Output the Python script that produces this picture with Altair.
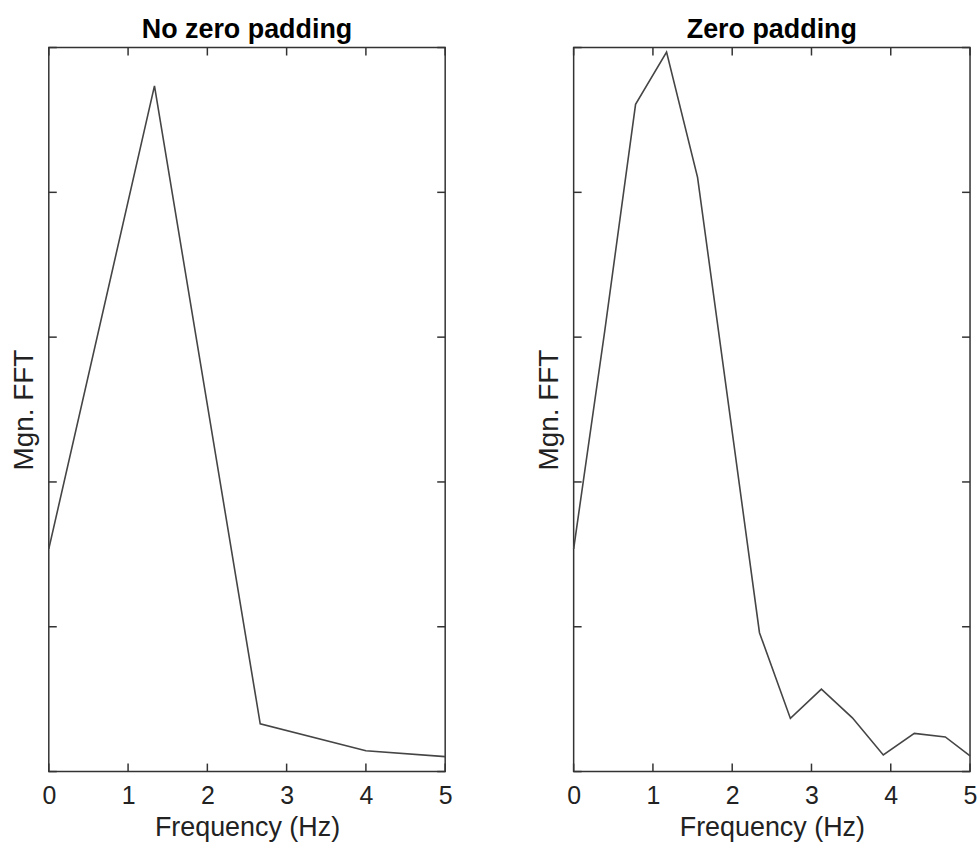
import altair as alt
import pandas as pd

# ---- data ----
left_freq = [0.0, 1.333, 2.667, 4.0, 5.0]
left_mag = [1.538, 4.735, 0.330, 0.144, 0.103]

right_freq = [0.0, 0.391, 0.781, 1.172, 1.563, 1.953, 2.344, 2.734,
              3.125, 3.516, 3.906, 4.297, 4.688, 5.0]
right_mag = [1.538, 3.038, 4.608, 4.968, 4.104, 2.536, 0.959, 0.367,
             0.569, 0.371, 0.115, 0.264, 0.239, 0.108]

x_ticks = [0, 1, 2, 3, 4, 5]
y_ticks = [0, 1, 2, 3, 4, 5]

titles = ["No zero padding", "Zero padding"]
x_title = "Frequency (Hz)"
y_title = "Mgn. FFT"

W, H = 398, 727
TICK = 8
FONT = "Liberation Sans"
INK = "#333333"

X_AXIS = alt.Axis(
    values=x_ticks, format="d", ticks=False, tickSize=0, domain=False,
    grid=False, labelFontSize=25, labelPadding=12, labelColor="#222222",
    labelFlush=False, labelOverlap=False,
    labelFont=FONT, title=x_title, titleFontSize=27,
    titleFontWeight="normal", titleFont=FONT, titleColor="#222222",
    titlePadding=6)
Y_AXIS = alt.Axis(
    values=y_ticks, labels=False, ticks=False, tickSize=0, domain=False,
    grid=False, title=y_title, titleFontSize=28, titleFontWeight="normal",
    titleFont=FONT, titleColor="#222222", titlePadding=10)


def panel(freq, mag, title):
    df = pd.DataFrame({"f": freq, "m": mag})
    xs = alt.Scale(domain=[0, 5], nice=False, zero=False)
    ys = alt.Scale(domain=[0, 5], nice=False, zero=False)
    line = alt.Chart(df).mark_line(color="#454545", strokeWidth=1.6).encode(
        x=alt.X("f:Q", scale=xs, axis=X_AXIS),
        y=alt.Y("m:Q", scale=ys, axis=Y_AXIS),
    )
    xt = pd.DataFrame({"v": x_ticks})
    yt = pd.DataFrame({"v": y_ticks})
    rs = dict(color=INK, strokeWidth=1.5)
    bottom = alt.Chart(xt).mark_rule(**rs).encode(
        x=alt.X("v:Q", scale=xs, axis=X_AXIS), y=alt.value(H), y2=alt.value(H - TICK))
    top = alt.Chart(xt).mark_rule(**rs).encode(
        x=alt.X("v:Q", scale=xs, axis=X_AXIS), y=alt.value(0), y2=alt.value(TICK))
    left = alt.Chart(yt).mark_rule(**rs).encode(
        y=alt.Y("v:Q", scale=ys, axis=Y_AXIS), x=alt.value(0), x2=alt.value(TICK))
    right = alt.Chart(yt).mark_rule(**rs).encode(
        y=alt.Y("v:Q", scale=ys, axis=Y_AXIS), x=alt.value(W), x2=alt.value(W - TICK))
    return alt.layer(line, bottom, top, left, right).properties(
        width=W, height=H,
        title=alt.TitleParams(title, fontSize=27, fontWeight="bold", font=FONT,
                              color="#000000", offset=3, anchor="middle"),
    )


chart = alt.hconcat(
    panel(left_freq, left_mag, titles[0]),
    panel(right_freq, right_mag, titles[1]),
    spacing=82,
).properties(
    padding={"left": 10, "top": 13, "right": 0, "bottom": 0},
    background="white",
).configure_view(stroke=INK, strokeWidth=1.5)

chart.save("out.html", embed_options={"renderer": "svg", "actions": False})
